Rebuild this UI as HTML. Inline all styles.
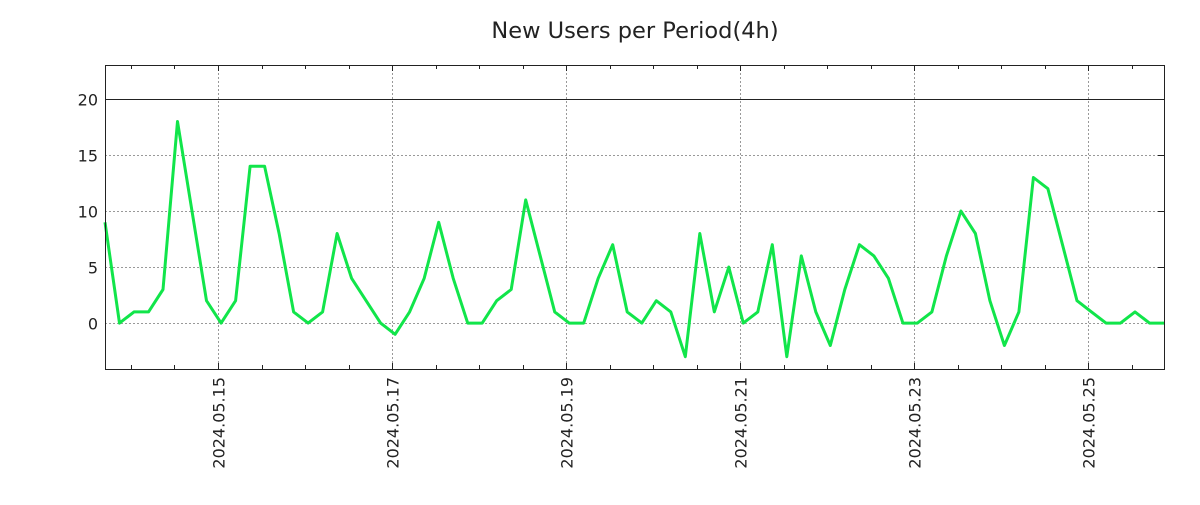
<!DOCTYPE html>
<html><head><meta charset="utf-8"><style>
body{margin:0;background:#fff;}
svg text{font-family:"DejaVu Sans","Liberation Sans",sans-serif;fill:#222;}
</style></head><body>
<svg id="chart" width="1200" height="500">
<text x="635" y="38" font-size="22.5" text-anchor="middle">New Users per Period(4h)</text>
<g id="grid"></g>
<g id="axes"></g>
<polyline id="series" fill="none" stroke="#11e54a" stroke-width="3" stroke-linejoin="round"></polyline>
<rect x="105.5" y="65.5" width="1059" height="304" fill="none" stroke="#222"/>
</svg>
<script>
const values=[9,0,1,1,3,18,10,2,0,2,14,14,8,1,0,1,8,4,2,0,-1,1,4,9,4,0,0,2,3,11,6,1,0,0,4,7,1,0,2,1,-3,8,1,5,0,1,7,-3,6,1,-2,3,7,6,4,0,0,1,6,10,8,2,-2,1,13,12,7,2,1,0,0,1,0,0];
const dayLabels=["2024.05.15","2024.05.17","2024.05.19","2024.05.21","2024.05.23","2024.05.25"];
const yTicks=[0,5,10,15,20];
const firstDayIndex=7.79; // period index of 2024.05.15 00:00
const periodsPerHalfDay=3;
const L=105,R=1164,T=65,B=369,yMin=-4.1,yMax=23.04;
const xS=i=>L+i*(R-L)/(values.length-1);
const yS=v=>B-(v-yMin)*(B-T)/(yMax-yMin);
const ns="http://www.w3.org/2000/svg";
const grid=document.getElementById('grid'),axes=document.getElementById('axes');
function mk(tag,attrs,parent){const e=document.createElementNS(ns,tag);for(const k in attrs)e.setAttribute(k,attrs[k]);parent.appendChild(e);return e;}
yTicks.forEach(v=>{
  const y=Math.round(yS(v))+0.5;
  const g=mk('line',{x1:L,x2:R,y1:y,y2:y,stroke:v===20?'#222':'#999','stroke-dasharray':v===20?'':'2,2'},grid);
  
  
  const t=mk('text',{x:98,y:y+6,'font-size':16,'text-anchor':'end'},axes);
  t.textContent=v;
  
  
  mk('line',{x1:R-6,x2:R,y1:y,y2:y,stroke:'#222'},axes);
});
for(let k=-4;k<=30;k++){
  const idx=firstDayIndex+k*periodsPerHalfDay;
  if(idx<0||idx>values.length-1)continue;
  const x=Math.round(xS(idx))+0.5;
  const major=k>=0&&k%4===0;
  const h=major?6:4;
  mk('line',{x1:x,x2:x,y1:B,y2:B-h,stroke:'#222'},axes);
  mk('line',{x1:x,x2:x,y1:T,y2:T+h,stroke:'#222'},axes);
  if(major){
    const g=mk('line',{x1:x,x2:x,y1:T,y2:B,stroke:'#999','stroke-dasharray':'2,2'},grid);
    
    
    const t=mk('text',{x:0,y:0,'font-size':16,'text-anchor':'end',transform:`translate(${x+6},377) rotate(-90)`},axes);
    t.textContent=dayLabels[k/4];
    
    
  }
}
document.getElementById('series').setAttribute('points',values.map((v,i)=>xS(i).toFixed(1)+','+yS(v).toFixed(1)).join(' '));
</script>
</body></html>
